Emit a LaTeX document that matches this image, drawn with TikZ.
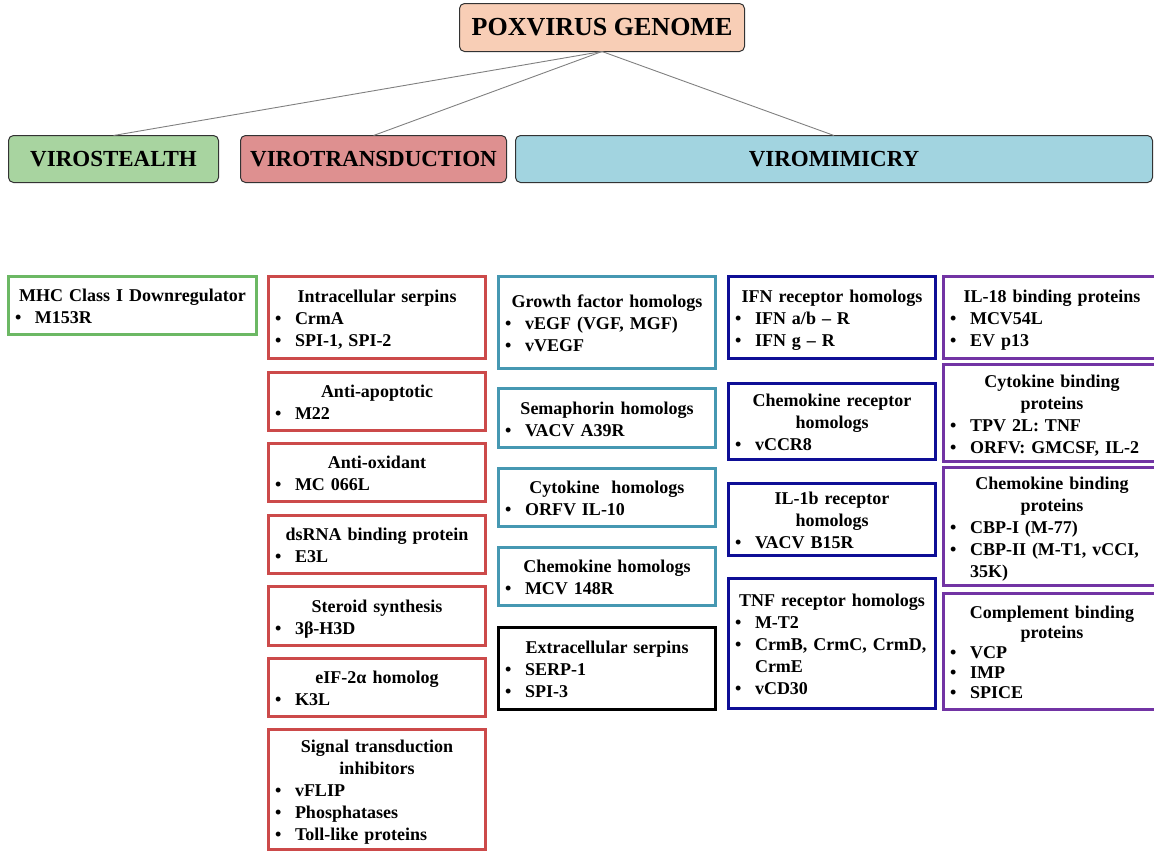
\documentclass[tikz,border=0pt]{standalone}
\usepackage{fontspec}
\setmainfont{Liberation Serif}
\definecolor{cgreen}{RGB}{108,184,100}
\definecolor{cred}{RGB}{204,74,74}
\definecolor{cteal}{RGB}{70,152,178}
\definecolor{cblue}{RGB}{14,14,150}
\definecolor{cpurple}{RGB}{114,52,164}
\definecolor{fpeach}{RGB}{248,206,182}
\definecolor{fgreen}{RGB}{168,212,160}
\definecolor{frose}{RGB}{222,144,144}
\definecolor{fblue}{RGB}{162,212,224}
\newcommand{\ttl}[1]{{\centering\rule{0pt}{18pt}#1\par}}
\newcommand{\bl}[1]{\par\hangindent=20pt\hangafter=1\noindent\makebox[20pt][l]{•}#1\rule[-4pt]{0pt}{4pt}\par}
\tikzset{
  hdr/.style={draw=black!80, line width=1pt, rounded corners=5pt, inner sep=0pt, outer sep=0pt,
    font=\fontsize{23}{26}\selectfont\bfseries},
  lbox/.style={draw, line width=3.2pt, inner xsep=6.4pt, inner ysep=0pt, outer sep=0pt,
    anchor=north west, align=left, font=\fontsize{18}{22}\selectfont\bfseries},
  gcol/.style={lbox, draw=cgreen, minimum width=247.8pt, text width=235pt},
  rcol/.style={lbox, draw=cred, minimum width=216.8pt, text width=204pt},
  tcol/.style={lbox, draw=cteal, minimum width=216.8pt, text width=204pt},
  kcol/.style={lbox, draw=black, minimum width=216.8pt, text width=204pt},
  bcol/.style={lbox, draw=cblue, minimum width=206.8pt, text width=194pt},
  pcol/.style={lbox, draw=cpurple, minimum width=216.8pt, text width=204pt},
  link/.style={draw=black!50, line width=0.9pt},
}
\begin{document}
\begin{tikzpicture}[x=1pt,y=-1pt]
\useasboundingbox (0,0) rectangle (1154,852);
\clip (0,0) rectangle (1154,852);
% headers
\node[hdr, fill=fpeach, minimum width=285pt, minimum height=48pt, font=\fontsize{26}{28}\selectfont\bfseries] (pox) at (602,27.5) {POXVIRUS GENOME};
\node[hdr, fill=fgreen, minimum width=210pt, minimum height=47pt] (vs) at (113.5,159) {VIROSTEALTH};
\node[hdr, fill=frose, minimum width=266pt, minimum height=47pt] (vt) at (373.5,159) {VIROTRANSDUCTION};
\node[hdr, fill=fblue, minimum width=637pt, minimum height=47pt] (vm) at (834,159) {VIROMIMICRY};
\draw[link] (pox.south) -- (vs.north);
\draw[link] (pox.south) -- (vt.north);
\draw[link] (pox.south) -- (vm.north);
% virostealth
\node[gcol, minimum height=57.8pt] (mhc) at (8.6,276.6) {\ttl{MHC Class I Downregulator}\bl{M153R}};
% virotransduction
\node[rcol, minimum height=81.8pt] (r1) at (268.6,276.6) {\ttl{Intracellular serpins}\bl{CrmA}\bl{SPI-1, SPI-2}};
\node[rcol, minimum height=57.8pt] (r2) at (268.6,372.6) {\ttl{Anti-apoptotic}\bl{M22}};
\node[rcol, minimum height=57.8pt] (r3) at (268.6,443.6) {\ttl{Anti-oxidant}\bl{MC 066L}};
\node[rcol, minimum height=57.8pt] (r4) at (268.6,515.6) {\ttl{dsRNA binding protein}\bl{E3L}};
\node[rcol, minimum height=58.8pt] (r5) at (268.6,586.6) {\ttl{Steroid synthesis}\bl{3β-H3D}};
\node[rcol, minimum height=57.8pt] (r6) at (268.6,658.6) {\ttl{eIF-2α homolog}\bl{K3L}};
\node[rcol, minimum height=119.8pt] (r7) at (268.6,729.6) {\ttl{Signal transduction\\inhibitors}\bl{vFLIP}\bl{Phosphatases}\bl{Toll-like proteins}};
% viromimicry: teal / black
\node[tcol, minimum height=91.8pt] (t1) at (498.6,276.6) {\ttl{Growth factor homologs}\bl{vEGF (VGF, MGF)}\bl{vVEGF}};
\node[tcol, minimum height=58.8pt] (t2) at (498.6,388.6) {\ttl{Semaphorin homologs}\bl{VACV A39R}};
\node[tcol, minimum height=57.8pt] (t3) at (498.6,468.6) {\ttl{Cytokine\ \ homologs}\bl{ORFV IL-10}};
\node[tcol, minimum height=57.8pt] (t4) at (498.6,547.6) {\ttl{Chemokine homologs}\bl{MCV 148R}};
\node[kcol, minimum height=81.8pt] (k1) at (498.6,627.6) {\ttl{Extracellular serpins}\bl{SERP-1}\bl{SPI-3}};
% viromimicry: blue
\node[bcol, minimum height=81.8pt] (b1) at (728.6,276.6) {\ttl{IFN receptor homologs}\bl{IFN a/b – R}\bl{IFN g – R}};
\node[bcol, minimum height=75.8pt] (b2) at (728.6,383.6) {\ttl{Chemokine receptor\\homologs}\bl{vCCR8}};
\node[bcol, minimum height=71.8pt] (b3) at (728.6,483.6) {\ttl{IL-1b receptor\\homologs}\bl{VACV B15R}};
\node[bcol, minimum height=129.8pt] (b4) at (728.6,578.6) {\ttl{TNF receptor homologs}\bl{M-T2}\bl{CrmB, CrmC, CrmD,\newline CrmE}\bl{vCD30}};
% viromimicry: purple
\node[pcol, minimum height=81.8pt] (p1) at (943.6,276.6) {\ttl{IL-18 binding proteins}\bl{MCV54L}\bl{EV p13}};
\node[pcol, minimum height=96.8pt] (p2) at (943.6,364.6) {\ttl{Cytokine binding\\proteins}\bl{TPV 2L: TNF}\bl{ORFV: GMCSF, IL-2}};
\node[pcol, minimum height=117.8pt] (p3) at (943.6,467.6) {\ttl{Chemokine binding\\proteins}\bl{CBP-I (M-77)}\bl{CBP-II (M-T1, vCCI,\newline 35K)}};
\node[pcol, minimum height=115.8pt, font=\fontsize{18}{20}\selectfont\bfseries] (p4) at (943.6,593.6) {\ttl{Complement binding\\proteins}\bl{VCP}\bl{IMP}\bl{SPICE}};
\end{tikzpicture}
\end{document}
